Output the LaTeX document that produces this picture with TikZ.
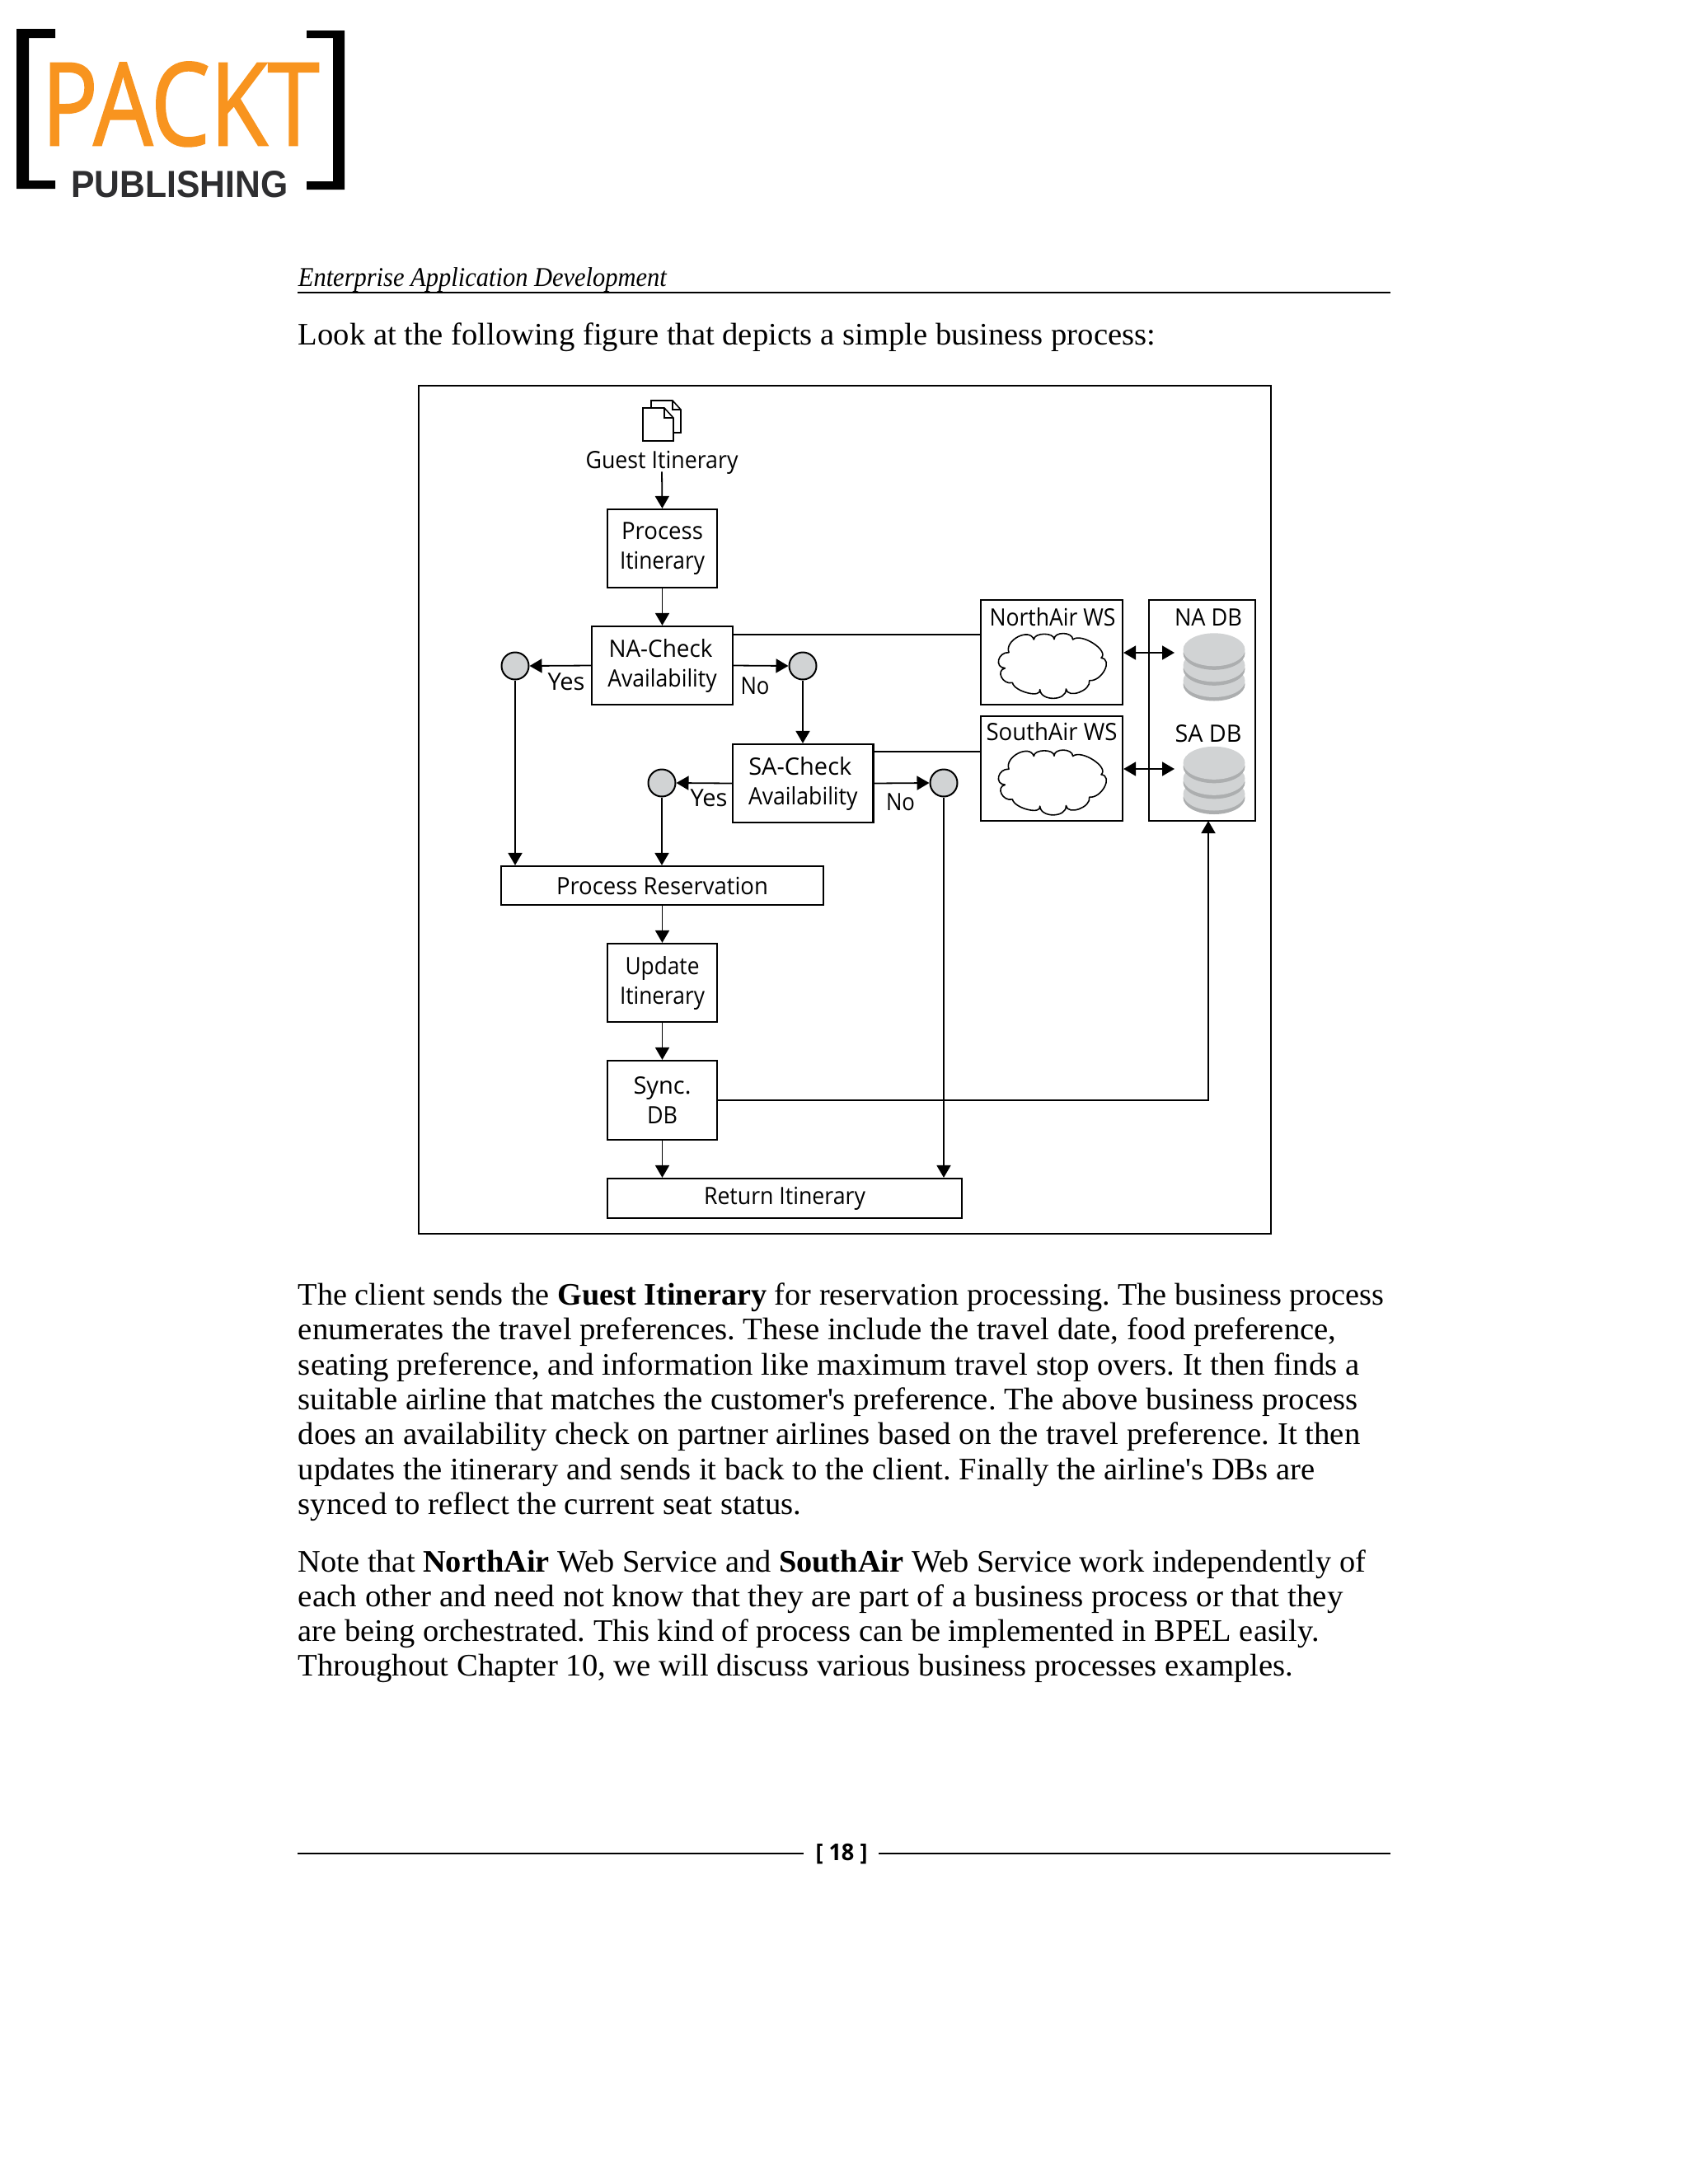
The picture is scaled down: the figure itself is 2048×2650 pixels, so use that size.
\documentclass[tikz,border=0pt]{standalone}
\usepackage{fontspec}
\usepackage{graphicx}
\usetikzlibrary{arrows.meta}
\setmainfont{Liberation Serif}
\newfontfamily\dfont{Open Sans}
\newfontfamily\packfont[FakeBold=1.6]{Open Sans}
\newfontfamily\pubfont{Liberation Sans}
\newfontfamily\bodyfont{Liberation Serif}
\newcommand\fw[2]{\resizebox{\dimexpr #1pt/2\relax}{\height}{#2}}
\newcommand\fwh[3]{\resizebox{\dimexpr #1pt/2\relax}{\dimexpr #2pt/2\relax}{#3}}
\definecolor{discl}{HTML}{D1D3D4}
\definecolor{discd}{HTML}{ACAEAF}
\definecolor{packt}{HTML}{F8941F}
\definecolor{pubgray}{HTML}{2E2E30}
\tikzset{
  boxn/.style={draw=black,line width=1.1pt,fill=white,inner sep=0pt,align=center,font=\dfont\fontsize{14.5}{18}\selectfont},
  lab/.style={inner sep=0pt,anchor=base,font=\dfont\fontsize{14.5}{18}\selectfont},
  decn/.style={circle,draw=black,line width=1pt,fill=discl,minimum size=16.5pt,inner sep=0pt},
  conn/.style={line width=.9pt},
  arr/.style={line width=.9pt,-{Triangle[length=7.5pt,width=8.5pt]}},
  darr/.style={line width=.9pt,{Triangle[length=7.5pt,width=8.5pt]}-{Triangle[length=7.5pt,width=8.5pt]}},
  bline/.style={inner sep=0pt,anchor=base west,font=\bodyfont\frenchspacing\fontsize{19}{21}\selectfont},
  rulel/.style={line width=.9pt},
  cloudl/.style={line width=.8pt,fill=white,line join=round},
}
\newcommand\dbstack[2]{%
  \foreach \c in {37.7,19,0}{%
    \fill[discd] (1473,#1+\c+4.5) ellipse [x radius=37.5,y radius=20];
    \fill[discl] (1473,#1+\c) ellipse [x radius=37.5,y radius=20];
  }}
\newcommand\cloudshape[1]{%
  \begin{scope}[shift={(1100,690+#1)},x=.16667pt,y=-.16667pt]
    \draw[cloudl] (372,305)
      .. controls (355,260) and (448,213) .. (463,258)
      .. controls (463,232) and (537,231) .. (537,257)
      .. controls (536,228) and (604,229) .. (605,258)
      .. controls (636,232) and (739,299) .. (708,325)
      .. controls (753,330) and (710,412) .. (665,407)
      .. controls (672,444) and (587,475) .. (580,438)
      .. controls (583,482) and (488,484) .. (485,440)
      .. controls (492,473) and (392,448) .. (385,415)
      .. controls (350,424) and (323,371) .. (358,362)
      .. controls (318,360) and (332,303) .. cycle;
  \end{scope}}
\begin{document}
\begin{tikzpicture}[x=.5pt,y=-.5pt]
\useasboundingbox (0,0) rectangle (2048,2650);
\fill[white] (0,0) rectangle (2048,2650);
% logo
\fill[black] (20,35) rectangle (67,46) (20,35) rectangle (35,229) (20,219) rectangle (67,229);
\fill[black] (372,37) rectangle (418,46) (404,37) rectangle (418,230) (372,220) rectangle (418,230);
\node[inner sep=0pt,anchor=south west,text=packt] (logoa) at (50,178) {\fwh{337}{101}{\packfont PACKT}};
\node[inner sep=0pt,anchor=south west,text=pubgray] (logob) at (86,240) {\fwh{263}{32}{\pubfont\bfseries PUBLISHING}};
% header
\node[bline,font=\bodyfont\frenchspacing\itshape\fontsize{16.5}{20}\selectfont] (hdr) at (361.5,347) {\fw{447}{Enterprise Application Development}};
\draw[rulel] (361,355) -- (1687,355);
\node[bline] (intro) at (361.5,418.5) {\fw{1040}{Look at the following figure that depicts a simple business process:}};
% frame
\draw[line width=1pt] (507.5,467.5) rectangle (1541.5,1496.5);
% doc icon
\draw[line width=.8pt,fill=white,line join=miter] (790,495) -- (790,486) -- (816,486) -- (826,497) -- (826,525) -- (817,525);
\draw[line width=.8pt] (816,486) -- (816,497) -- (826,497);
\draw[line width=.8pt,fill=white] (780,495) -- (806,495) -- (817,507) -- (817,535) -- (780,535) -- cycle;
\draw[line width=.8pt] (806,495) -- (806,507) -- (817,507);
% boxes
\node[lab] (gi) at (803,568) {\fw{185}{Guest Itinerary}};
\node[boxn,minimum width=66.5pt,minimum height=47.5pt] (pi) at (803.5,665.5) {\fw{99}{Process}\\\fw{103}{Itinerary}};
\node[boxn,minimum width=85.5pt,minimum height=47.5pt] (na) at (803.5,807.5) {\fw{126}{NA-Check}\hspace*{2pt}\\\fw{132.5}{Availability}};
\node[boxn,minimum width=85.25pt,minimum height=47.5pt] (sa) at (974.25,950.5) {\fw{125}{SA-Check}\hspace*{3.5pt}\\\fw{132.5}{Availability}};
\node[decn] (c1) at (625,808) {};
\node[decn] (c2) at (974,808) {};
\node[decn] (c3) at (803,950) {};
\node[decn] (c4) at (1145,950) {};
\node[lab] (y1) at (687,837) {\fw{45}{Yes}};
\node[lab] (n1) at (916,842) {\fw{35}{No}};
\node[lab] (y2) at (860,978) {\fw{45}{Yes}};
\node[lab] (n2) at (1092.5,983) {\fw{35}{No}};
\node[boxn,minimum width=195.5pt,minimum height=23.5pt] (pr) at (803.5,1074.5) {\fw{257}{Process Reservation}};
\node[boxn,minimum width=66.5pt,minimum height=47.5pt] (up) at (803.5,1192.5) {\fw{90}{Update}\\\fw{103}{Itinerary}};
\node[boxn,minimum width=66.5pt,minimum height=48pt] (sy) at (803.5,1335) {\fw{70}{Sync.}\\\fw{37}{DB}};
\node[boxn,minimum width=215pt,minimum height=24pt] (ri) at (952,1454) {\fw{196}{Return Itinerary}};
% services
\node[draw,line width=1.1pt,minimum width=86pt,minimum height=63.5pt,inner sep=0pt] (nw) at (1276,791.5) {};
\node[draw,line width=1.1pt,minimum width=86pt,minimum height=63.5pt,inner sep=0pt] (sw) at (1276,932.5) {};
\node[lab] (nwt) at (1277,759.5) {\fw{153}{NorthAir WS}};
\node[lab] (swt) at (1276,898) {\fw{159}{SouthAir WS}};
\cloudshape{0}
\cloudshape{141.5}
% db
\node[draw,line width=1.1pt,minimum width=64.5pt,minimum height=134pt,inner sep=0pt] (db) at (1458.5,862) {};
\node[lab] (nad) at (1466,759.5) {\fw{82}{NA DB}};
\node[lab] (sad) at (1466,900) {\fw{81}{SA DB}};
\dbstack{788.3}{}
\dbstack{925.8}{}
% connectors
\coordinate (d1) at (1425,792);
\coordinate (d2) at (1425,933);
\coordinate (dbin) at (1466,996);
\draw[arr] ([yshift=1.5pt]gi.south) -- (pi.north);
\draw[arr] (pi.south) -- (na.north);
\draw[arr] (na.west) -- (c1.east);
\draw[arr] (na.east) -- (c2.west);
\draw[arr] (c2.south) -- (c2.south |- sa.north);
\draw[arr] (sa.west) -- (c3.east);
\draw[arr] (sa.east) -- (c4.west);
\draw[arr] (c1.south) -- (c1.south |- pr.north);
\draw[arr] (c3.south) -- (c3.south |- pr.north);
\draw[arr] (pr.south) -- (up.north);
\draw[arr] (up.south) -- (sy.north);
\draw[arr] (sy.south) -- (sy.south |- ri.north);
\draw[arr] (c4.south) -- (c4.south |- ri.north);
\draw[arr] (sy.east) -| (dbin);
\draw[conn] (na.east |- 0,770) -- (nw.west |- 0,770);
\draw[conn] (sa.east |- 0,912) -- (sw.west |- 0,912);
\draw[darr] (nw.east |- d1) -- (d1);
\draw[darr] (sw.east |- d2) -- (d2);
% body
\node[bline] (a1) at (361.5,1583.5) {\fw{1317.5}{The client sends the {\bfseries Guest Itinerary} for reservation processing. The business process}};
\node[bline] (a2) at (361.5,1625.8) {\fw{1259.5}{enumerates the travel preferences. These include the travel date, food preference,}};
\node[bline] (a3) at (361.5,1668.1) {\fw{1287.5}{seating preference, and information like maximum travel stop overs. It then finds a}};
\node[bline] (a4) at (361.5,1710.4) {\fw{1285.5}{suitable airline that matches the customer's preference. The above business process}};
\node[bline] (a5) at (361.5,1752.7) {\fw{1288.5}{does an availability check on partner airlines based on the travel preference. It then}};
\node[bline] (a6) at (361.5,1795) {\fw{1233.5}{updates the itinerary and sends it back to the client. Finally the airline's DBs are}};
\node[bline] (a7) at (361.5,1837.3) {\fw{610.5}{synced to reflect the current seat status.}};
\node[bline] (b1) at (361.5,1907) {\fw{1295.5}{Note that {\bfseries NorthAir} Web Service and {\bfseries SouthAir} Web Service work independently of}};
\node[bline] (b2) at (361.5,1949.3) {\fw{1267.5}{each other and need not know that they are part of a business process or that they}};
\node[bline] (b3) at (361.5,1991.6) {\fw{1238.5}{are being orchestrated. This kind of process can be implemented in BPEL easily.}};
\node[bline] (b4) at (361.5,2033.9) {\fw{1207.5}{Throughout Chapter 10, we will discuss various business processes examples.}};
% footer
\draw[rulel] (361,2249) -- (975,2249);
\draw[rulel] (1066,2249) -- (1687,2249);
\node[inner sep=0pt,anchor=base,font=\dfont\bfseries\fontsize{14}{16}\selectfont] (pg) at (1021,2257) {\fw{63}{[ 18 ]}};
\end{tikzpicture}
\end{document}
